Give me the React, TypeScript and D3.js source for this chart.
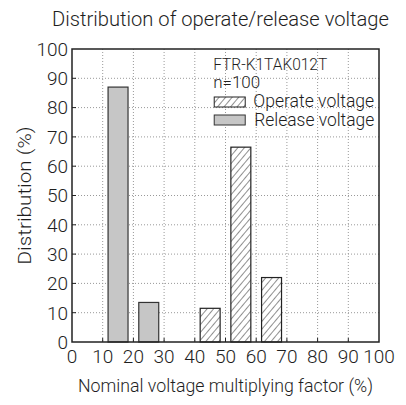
import * as d3 from "d3";

const releaseFactor = [15, 25];
const releaseDist = [87, 13.5];
const operateFactor = [45, 55, 65];
const operateDist = [11.5, 66.5, 22];
const ticks = [0, 10, 20, 30, 40, 50, 60, 70, 80, 90, 100];

const W = 406;
const H = 405;
const margin = { top: 49, right: 27, bottom: 63, left: 72 };
const FONT = "Roboto, 'Noto Sans', sans-serif";
const INK = "#1e1e1e";

const App = () => {
  const innerW = W - margin.left - margin.right;
  const innerH = H - margin.top - margin.bottom;
  const x = d3.scaleLinear().domain([0, 100]).range([0, innerW]);
  const y = d3.scaleLinear().domain([0, 100]).range([innerH, 0]);
  const barW = x(6.5) - x(0);

  return (
    <svg
      width={W}
      height={H}
      style={{ position: "absolute", left: 0, top: 0, background: "#fff" }}
      fontFamily={FONT}
      fontWeight={300}
    >
      <defs>
        <pattern
          id="hatch"
          width={5}
          height={5}
          patternUnits="userSpaceOnUse"
          patternTransform="rotate(40)"
        >
          <rect width={5} height={5} fill="#fff" />
          <line x1={0} y1={0} x2={0} y2={5} stroke="#222" strokeWidth={1} />
        </pattern>
      </defs>
      <text
        x={52}
        y={26}
        fontSize={21}
        fill={INK}
        textLength={337}
        lengthAdjust="spacingAndGlyphs"
      >
        Distribution of operate/release voltage
      </text>
      <g transform={`translate(${margin.left},${margin.top})`}>
        {/* grid */}
        {ticks.slice(1, -1).map((t) => (
          <g key={t}>
            <line
              x1={x(t)}
              x2={x(t)}
              y1={0}
              y2={innerH}
              stroke="#999"
              strokeDasharray="1,2"
            />
            <line
              x1={0}
              x2={innerW}
              y1={y(t)}
              y2={y(t)}
              stroke="#999"
              strokeDasharray="1,2"
            />
          </g>
        ))}
        {/* bars */}
        {releaseFactor.map((f, i) => (
          <rect
            key={"r" + f}
            x={x(f) - barW / 2}
            y={y(releaseDist[i])}
            width={barW}
            height={y(0) - y(releaseDist[i])}
            fill="#c6c6c6"
            stroke="#333"
            strokeWidth={1.2}
          />
        ))}
        {operateFactor.map((f, i) => (
          <rect
            key={"o" + f}
            x={x(f) - barW / 2}
            y={y(operateDist[i])}
            width={barW}
            height={y(0) - y(operateDist[i])}
            fill="url(#hatch)"
            stroke="#222"
            strokeWidth={1.2}
          />
        ))}
        {/* ticks */}
        {ticks.slice(1, -1).map((t) => (
          <g key={"t" + t} stroke="#222" strokeWidth={1}>
            <line x1={x(t)} x2={x(t)} y1={innerH} y2={innerH - 4} />
            <line x1={0} x2={4} y1={y(t)} y2={y(t)} />
          </g>
        ))}
        <rect
          width={innerW}
          height={innerH}
          fill="none"
          stroke="#222"
          strokeWidth={1.5}
        />
        {ticks.map((t) => (
          <text
            key={"yl" + t}
            x={-4}
            y={y(t)}
            dy="0.36em"
            textAnchor="end"
            fontSize={19}
            fill={INK}
          >
            {t}
          </text>
        ))}
        {ticks.map((t) => (
          <text
            key={"xl" + t}
            x={x(t)}
            y={innerH + 21}
            textAnchor="middle"
            fontSize={19}
            fill={INK}
          >
            {t}
          </text>
        ))}
        {/* legend */}
        <g transform={`translate(${x(46)},0)`} fontSize={18} fill={INK}>
          <text x={0} y={21} fontSize={16} textLength={114} lengthAdjust="spacingAndGlyphs">
            FTR-K1TAK012T
          </text>
          <text x={0} y={39} fontSize={16} textLength={47} lengthAdjust="spacingAndGlyphs">
            n=100
          </text>
          <rect x={1} y={48} width={31} height={10} fill="url(#hatch)" stroke="#222" />
          <text x={40} y={58} textLength={121} lengthAdjust="spacingAndGlyphs">
            Operate voltage
          </text>
          <rect x={1} y={66} width={31} height={10} fill="#c6c6c6" stroke="#333" />
          <text x={41} y={77} textLength={120} lengthAdjust="spacingAndGlyphs">
            Release voltage
          </text>
        </g>
      </g>
      <text
        transform={`translate(31,${margin.top + innerH / 2}) rotate(-90)`}
        textAnchor="middle"
        fontSize={19}
        fill={INK}
        textLength={138}
        lengthAdjust="spacingAndGlyphs"
      >
        Distribution (%)
      </text>
      <text
        x={78}
        y={392}
        fontSize={19}
        fill={INK}
        textLength={295}
        lengthAdjust="spacingAndGlyphs"
      >
        Nominal voltage multiplying factor (%)
      </text>
    </svg>
  );
};

export default App;
